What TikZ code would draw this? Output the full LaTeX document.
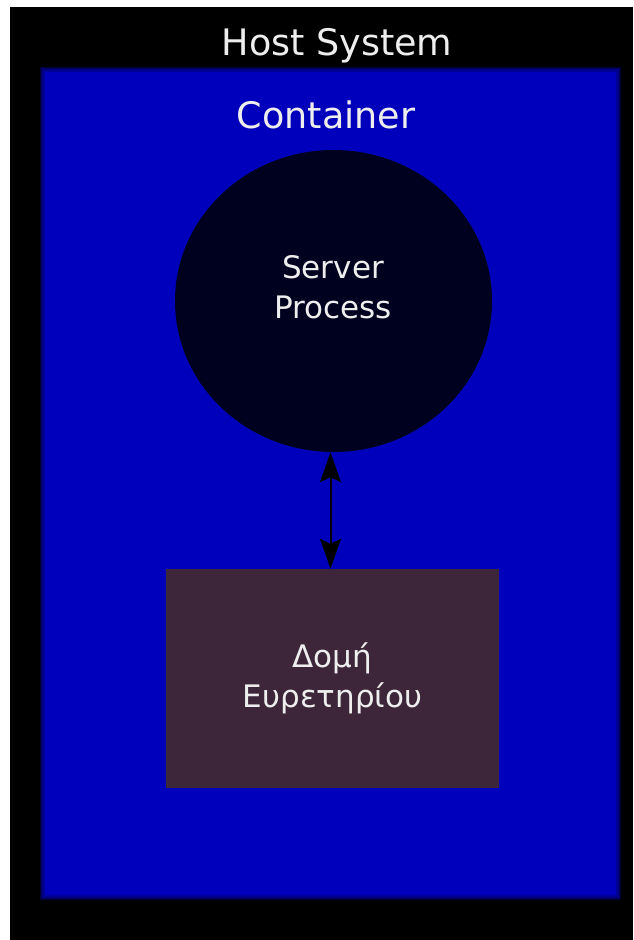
\documentclass[tikz,border=0pt]{standalone}
\usepackage{fontspec}
\setmainfont{DejaVu Sans}
\usepackage{xcolor}
\usetikzlibrary{arrows.meta,positioning,shapes.geometric}
\definecolor{hostblack}{HTML}{000000}
\definecolor{containerblue}{HTML}{0000BC}
\definecolor{procnavy}{HTML}{00001F}
\definecolor{indexplum}{HTML}{3D263A}
\definecolor{labelwhite}{HTML}{EEEEEE}
\tikzset{
	caption/.style={text=labelwhite, font=\fontsize{36.5}{40}\selectfont, inner sep=0pt},
	inner/.style={text=labelwhite, font=\fontsize{31}{40}\selectfont, align=center, inner sep=0pt},
	link/.style={line width=2pt, {Stealth[length=30pt,width=21pt,inset=5pt]}-{Stealth[length=30pt,width=21pt,inset=5pt]}}
}

\begin{document}
\begin{tikzpicture}[x=1pt, y=-1pt]
			\useasboundingbox (0, 0) rectangle (633, 940);
			\fill[white]		(0, 0) rectangle (633, 940);
			\fill[hostblack]	(10, 7) rectangle (633, 940);

			% container with soft edge
			\foreach \d in {1,...,5}
				\fill[containerblue, opacity=0.3] (45-\d, 72-\d) rectangle (616+\d, 895+\d);
			\fill[containerblue]	(45, 72) rectangle (616, 895);

			\node[caption, anchor=base] (hostlabel) at (337, 55) {Host System};
			\node[caption, anchor=base] (containerlabel) at (326, 128) {Container};

			\node[ellipse, fill=procnavy, minimum width=317pt, minimum height=302pt, inner sep=0pt] (server) at (333.5, 301) {};
			\node[inner] (serverlabel) at (333, 287) {Server\\Process};

			\node[rectangle, fill=indexplum, minimum width=333pt, minimum height=219pt, inner sep=0pt, inner] (index) at (332.5, 678.5) {Δομή\\Ευρετηρίου};

			\draw[link, black]	([xshift=-3pt]server.south) -- ([xshift=-2pt]index.north);
		\end{tikzpicture}
\end{document}
